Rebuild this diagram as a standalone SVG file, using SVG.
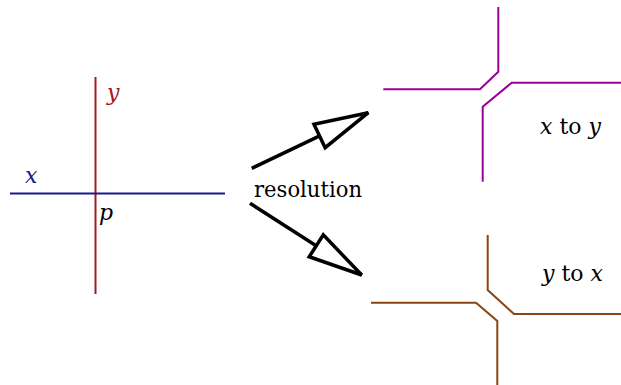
<svg xmlns="http://www.w3.org/2000/svg" width="621" height="385" viewBox="0 0 621 385">
  <style>
    text { font-family: "DejaVu Serif", serif; font-size: 22px; }
    .it { font-style: italic; }
    .wire { fill: none; stroke-width: 2; stroke-linejoin: miter; }
    .arrow { fill: none; stroke: #000; stroke-width: 3.5; }
  </style>
  <defs>
    <marker id="openHead" markerUnits="userSpaceOnUse" viewBox="-60 -16 64 32" refX="0" refY="0" markerWidth="64" markerHeight="32" orient="auto" overflow="visible">
      <path d="M0,0 L-54,-13 L-54,13 Z" fill="#fff" stroke="#000" stroke-width="3.5" stroke-linejoin="miter"/>
    </marker>
  </defs>

  <!-- crossing point p with wires x and y -->
  <g id="crossing">
    <line x1="95.5" y1="77" x2="95.5" y2="294" stroke="#a8161e" stroke-width="2"/>
    <line x1="10" y1="193.5" x2="225" y2="193.5" stroke="#1a1a8c" stroke-width="2"/>
    <text class="it" x="107" y="100" fill="#a8161e">y</text>
    <text class="it" x="25" y="183" fill="#1a1a8c">x</text>
    <text class="it" x="99" y="220" fill="#000">p</text>
  </g>

  <!-- resolution label -->
  <g id="resolution">
    <text x="254" y="196.5" textLength="108" lengthAdjust="spacingAndGlyphs">resolution</text>
  </g>

  <!-- connectors -->
  <g id="connectors">
    <line class="arrow" x1="251.7" y1="168.3" x2="368.3" y2="112.7" marker-end="url(#openHead)"/>
    <line class="arrow" x1="250" y1="203.3" x2="361.7" y2="275" marker-end="url(#openHead)"/>
  </g>

  <!-- x turns to y -->
  <g id="x-to-y">
    <polyline class="wire" stroke="#990099" points="498.3,7 498.3,71.7 480,89.3 383.3,89.3"/>
    <polyline class="wire" stroke="#990099" points="621,82.7 511.7,82.7 482.7,106.7 482.7,181.7"/>
    <text x="540" y="134"><tspan class="it">x</tspan> to <tspan class="it">y</tspan></text>
  </g>

  <!-- y turns to x -->
  <g id="y-to-x">
    <polyline class="wire" stroke="#8b4513" points="487.7,235 487.7,290 514,314 621,314"/>
    <polyline class="wire" stroke="#8b4513" points="371,302.7 476,302.7 497.3,321 497.3,385"/>
    <text x="542" y="281"><tspan class="it">y</tspan> to <tspan class="it">x</tspan></text>
  </g>
</svg>
